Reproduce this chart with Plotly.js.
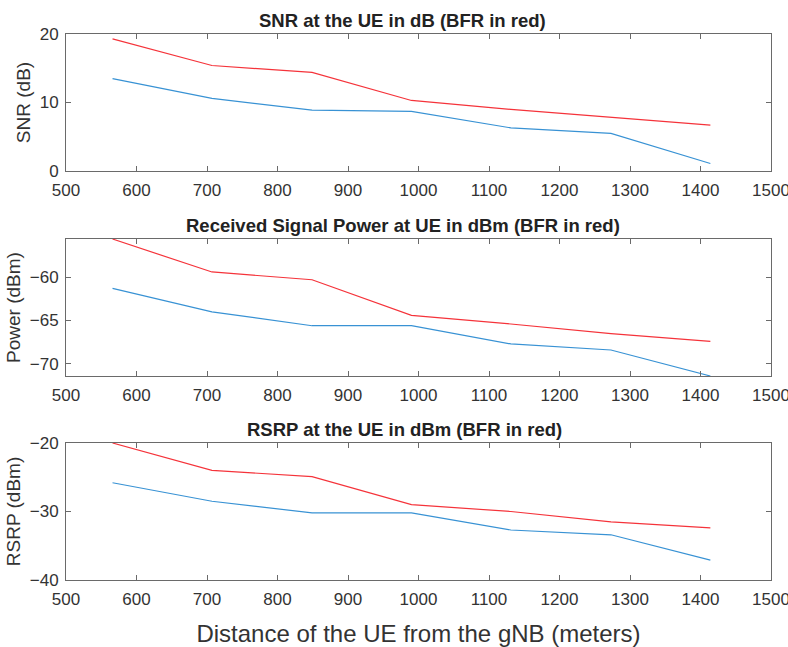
<!DOCTYPE html>
<html>
<head>
<meta charset="utf-8">
<script src="https://cdn.plot.ly/plotly-3.0.1.min.js"></script>
<style>html,body{margin:0;padding:0;background:#fff;}#chart{width:788px;height:647px;}</style>
</head>
<body>
<div id="chart"></div>
<script>
// Distances (meters)
const distance = [566, 707, 849, 990, 1131, 1273, 1414];

// SNR (dB)
const snrBase = [13.5, 10.6, 8.9, 8.7, 6.3, 5.5, 1.1];
const snrBFR  = [19.3, 15.4, 14.4, 10.3, 9.0, 7.8, 6.7];

// Received signal power (dBm)
const powerBase = [-61.3, -64.0, -65.6, -65.6, -67.7, -68.4, -71.4];
const powerBFR  = [-55.6, -59.4, -60.3, -64.4, -65.4, -66.5, -67.4];

// RSRP (dBm)
const rsrpBase = [-25.8, -28.5, -30.2, -30.2, -32.7, -33.4, -37.1];
const rsrpBFR  = [-20.0, -24.0, -24.9, -29.0, -30.0, -31.5, -32.4];

const xTicks = [500, 600, 700, 800, 900, 1000, 1100, 1200, 1300, 1400, 1500];

const titles = [
  'SNR at the UE in dB (BFR in red)',
  'Received Signal Power at UE in dBm (BFR in red)',
  'RSRP at the UE in dBm (BFR in red)'
];
const yTitles = ['SNR (dB)', 'Power (dBm)', 'RSRP (dBm)'];
const xTitle = 'Distance of the UE from the gNB (meters)';

const blue = '#3892d4';
const red = '#f5333a';
const axisColor = '#6a6a6a';
const textColor = '#333333';
const FONT = 'Liberation Sans, Arial, sans-serif';

function line(x, y, color, xa, ya) {
  return {x: x, y: y, type: 'scatter', mode: 'lines', xaxis: xa, yaxis: ya,
          line: {color: color, width: 1.2}, hoverinfo: 'skip', showlegend: false};
}

const data = [
  line(distance, snrBase, blue, 'x', 'y'),
  line(distance, snrBFR, red, 'x', 'y'),
  line(distance, powerBase, blue, 'x2', 'y2'),
  line(distance, powerBFR, red, 'x2', 'y2'),
  line(distance, rsrpBase, blue, 'x3', 'y3'),
  line(distance, rsrpBFR, red, 'x3', 'y3')
];

function xAxis(anchor) {
  return {
    anchor: anchor, range: [500, 1500], tickvals: xTicks,
    ticks: 'inside', ticklen: 5, tickcolor: axisColor, tickwidth: 1,
    showline: true, linecolor: axisColor, linewidth: 1, mirror: 'ticks',
    showgrid: false, zeroline: false, ticklabelstandoff: 4,
    ticklabeloverflow: 'allow',
    tickfont: {family: FONT, size: 17, color: textColor}
  };
}
function yAxis(anchor, domain, range, tickvals, title) {
  return {
    anchor: anchor, domain: domain, range: range, tickvals: tickvals,
    ticks: 'inside', ticklen: 5, tickcolor: axisColor, tickwidth: 1,
    showline: true, linecolor: axisColor, linewidth: 1, mirror: 'ticks',
    showgrid: false, zeroline: false, ticklabelstandoff: 3,
    ticklabeloverflow: 'allow',
    tickfont: {family: FONT, size: 17, color: textColor},
    title: {text: title, font: {family: FONT, size: 19, color: textColor}, standoff: 4}
  };
}

const layout = {
  width: 788, height: 647,
  margin: {l: 66, r: 17, t: 34, b: 67},
  paper_bgcolor: '#ffffff', plot_bgcolor: '#ffffff',
  showlegend: false,
  xaxis: xAxis('y'),
  xaxis2: xAxis('y2'),
  xaxis3: Object.assign(xAxis('y3'), {title: {text: xTitle, font: {family: FONT, size: 24, color: textColor}, standoff: 18}}),
  yaxis: yAxis('x', [0.749, 1], [0, 20], [0, 10, 20], yTitles[0]),
  yaxis2: yAxis('x2', [0.3736, 0.6245], [-71.4, -55.6], [-70, -65, -60], yTitles[1]),
  yaxis3: yAxis('x3', [0, 0.2509], [-40, -20], [-40, -30, -20], yTitles[2]),
  annotations: [
    {text: '<b>' + titles[0] + '</b>', xref: 'paper', yref: 'paper', x: 0.5, y: 1, xshift: -16, yshift: 1, xanchor: 'center', yanchor: 'bottom', showarrow: false, font: {family: FONT, size: 18.5, color: '#222'}},
    {text: '<b>' + titles[1] + '</b>', xref: 'paper', yref: 'paper', x: 0.5, y: 0.6245, xshift: -16, yshift: 1, xanchor: 'center', yanchor: 'bottom', showarrow: false, font: {family: FONT, size: 18.5, color: '#222'}},
    {text: '<b>' + titles[2] + '</b>', xref: 'paper', yref: 'paper', x: 0.5, y: 0.2509, xshift: -14, yshift: 1, xanchor: 'center', yanchor: 'bottom', showarrow: false, font: {family: FONT, size: 18.5, color: '#222'}}
  ]
};

Plotly.newPlot('chart', data, layout, {displayModeBar: false, staticPlot: true});
</script>
</body>
</html>
